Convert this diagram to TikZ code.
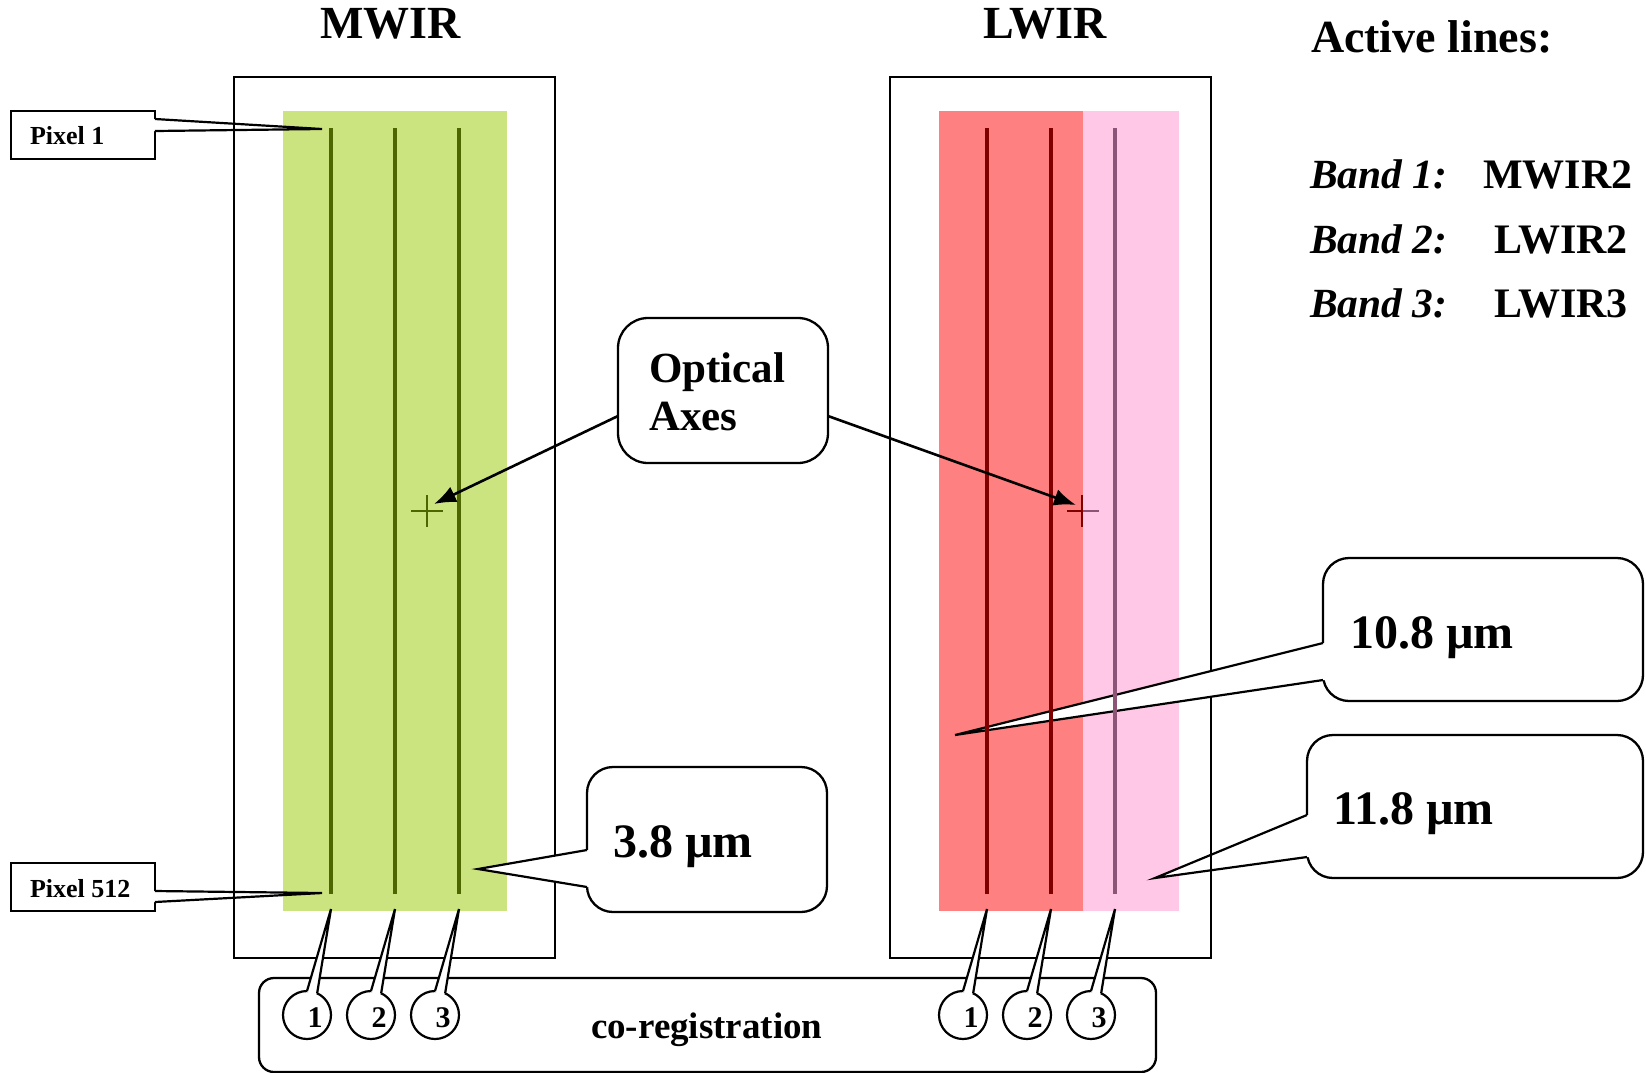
\documentclass[tikz,border=0pt]{standalone}
\usepackage{fontspec}
\setmainfont{Liberation Serif}
\usetikzlibrary{arrows.meta,calc}

\definecolor{mwirfill}{RGB}{204,228,128}
\definecolor{mwirline}{RGB}{77,102,0}
\definecolor{lwirtwo}{RGB}{255,128,128}
\definecolor{lwirthree}{RGB}{255,200,230}
\definecolor{detred}{RGB}{128,0,0}
\definecolor{detmauve}{RGB}{140,85,120}

\newcommand\fsz[2]{\fontsize{#1}{#2}\selectfont}
% wedge of a callout: tip, two base points on the box edge, inward offset
\newcommand\calloutwedge[4]{%
  \fill[white] (#1) -- (#2) -- ($(#2)+(#4,0)$) -- ($(#3)+(#4,0)$) -- (#3) -- cycle;
  \draw[wedgeline] (#2) -- (#1) -- (#3);}
% wedge from a numbered circle up to the end of a detector line
\newcommand\circlewedge[2]{%
  \fill[white] (#2) -- (#1.90) -- ($(#1.center)!0.8!(#1.77)$) -- (#1.65) -- cycle;
  \draw[wedgeline] (#1.90) -- (#2) -- (#1.65);}

\begin{document}
\begin{tikzpicture}[x=1pt, y=-1pt,
  every node/.style={inner sep=0pt, outer sep=0pt},
  framebox/.style={draw, line width=2.6pt},
  pixbox/.style={draw, fill=white, line width=2pt},
  callbox/.style={draw, fill=white, line width=2.3pt, rounded corners=26pt},
  coregbox/.style={draw, line width=2.3pt, rounded corners=15pt},
  numcirc/.style={circle, draw, fill=white, line width=2.2pt, minimum size=48pt},
  wedgeline/.style={line width=2.2pt},
  detline/.style={line width=3.4pt},
  axisarrow/.style={line width=2.6pt, -{Latex[length=22pt,width=17pt]}},
  crossline/.style={line width=2.2pt},
  titletext/.style={font=\bfseries\fsz{46}{50}},
  bandname/.style={font=\bfseries\itshape\fsz{41.5}{45}},
  bandvalue/.style={font=\bfseries\fsz{42}{45}},
  bigtext/.style={font=\bfseries\fsz{48}{52}},
  axtext/.style={font=\bfseries\fsz{43}{48}},
  pixtext/.style={font=\bfseries\fsz{26}{30}},
  numtext/.style={font=\bfseries\fsz{30}{32}},
  regtext/.style={font=\bfseries\fsz{37}{40}}]

\useasboundingbox (0,0) rectangle (1646,1072);

% spectral band areas on the focal planes
\fill[mwirfill] (283,111) rectangle (507,911);
\fill[lwirtwo] (939,111) rectangle (1083,911);
\fill[lwirthree] (1083,111) rectangle (1179,911);

% pixel labels
\node[pixbox, minimum width=144pt, minimum height=48pt] (px1) at (83,135) {};
\node[pixbox, minimum width=144pt, minimum height=48pt] (px512) at (83,887) {};
\coordinate (px1tip) at (322,129);
\coordinate (px512tip) at (322,893);
\coordinate (px1a) at ($(px1.north east)+(0,8)$);
\coordinate (px1b) at ($(px1.north east)+(0,20)$);
\coordinate (px512a) at ($(px512.north east)+(0,28)$);
\coordinate (px512b) at ($(px512.north east)+(0,39)$);
\calloutwedge{px1tip}{px1a}{px1b}{-4}
\calloutwedge{px512tip}{px512a}{px512b}{-4}
\node[pixtext, anchor=base west] (px1txt) at (30,144) {Pixel 1};
\node[pixtext, anchor=base west] (px512txt) at (30,897) {Pixel 512};

% 11.8 micron callout
\node[callbox, minimum width=336pt, minimum height=143pt] (c118) at (1475,806.5) {};
\coordinate (c118tip) at (1155,878);
\coordinate (c118a) at ($(c118.north west)+(0,80)$);
\coordinate (c118b) at ($(c118.north west)+(0,122)$);
\calloutwedge{c118tip}{c118a}{c118b}{4}
\node[bigtext, anchor=base west] (t118) at (1333,824) {11.8 µm};

% focal plane frames and titles
\node[framebox, minimum width=321pt, minimum height=881pt] (mframe) at (394.5,517.5) {};
\node[framebox, minimum width=321pt, minimum height=881pt] (lframe) at (1050.5,517.5) {};
\node[titletext, anchor=base] (mtitle) at (390.5,38) {MWIR};
\node[titletext, anchor=base] (ltitle) at (1045,38) {LWIR};

% 3.8 micron callout
\node[callbox, minimum width=240pt, minimum height=145pt] (c38) at (707,839.5) {};
\coordinate (c38tip) at (478,869);
\coordinate (c38a) at ($(c38.north west)+(0,83)$);
\coordinate (c38b) at ($(c38.north west)+(0,120)$);
\calloutwedge{c38tip}{c38a}{c38b}{4}
\node[bigtext, anchor=base west] (t38) at (613,857) {3.8 µm};

% 10.8 micron callout
\node[callbox, minimum width=320pt, minimum height=143pt] (c108) at (1483,629.5) {};
\coordinate (c108tip) at (955,735);
\coordinate (c108a) at ($(c108.north west)+(0,85)$);
\coordinate (c108b) at ($(c108.north west)+(0,122)$);
\calloutwedge{c108tip}{c108a}{c108b}{4}
\node[bigtext, anchor=base west] (t108) at (1350,648) {10.8 µm};

% detector lines
\foreach \x in {331,395,459}
  \draw[detline, mwirline] (\x,128) -- (\x,894);
\foreach \x in {987,1051}
  \draw[detline, detred] (\x,128) -- (\x,894);
\draw[detline, detmauve] (1115,128) -- (1115,894);

% optical axes
\coordinate (gax) at (427,511);
\coordinate (rax) at (1082,511);
\draw[crossline, mwirline] ($(gax)+(-16,0)$) -- ($(gax)+(16,0)$)
  ($(gax)+(0,-16)$) -- ($(gax)+(0,16)$);
\draw[crossline, detred] ($(rax)+(-15,0)$) -- (rax)
  ($(rax)+(0,-16)$) -- ($(rax)+(0,16)$);
\draw[crossline, detmauve] ($(rax)+(1,0)$) -- ($(rax)+(17,0)$);
\coordinate (gtip) at (434,504);
\coordinate (rtip) at (1076,505);

\node[callbox, rounded corners=30pt, minimum width=210pt, minimum height=145pt] (oa) at (723,390.5) {};
\node[axtext, anchor=base west] (oat1) at (649,382) {Optical};
\node[axtext, anchor=base west] (oat2) at (649,430) {Axes};
\draw[axisarrow] ($(oa.north west)+(0,98)$) -- (gtip);
\draw[axisarrow] ($(oa.north east)+(0,98)$) -- (rtip);

% active lines legend
\node[titletext, anchor=base west] (act) at (1311,52) {Active lines:};
\node[bandname, anchor=base west] (b1) at (1310,188) {Band 1:};
\node[bandvalue, anchor=base west] (v1) at (1483,188) {MWIR2};
\node[bandname, anchor=base west] (b2) at (1310,253) {Band 2:};
\node[bandvalue, anchor=base west] (v2) at (1494,253) {LWIR2};
\node[bandname, anchor=base west] (b3) at (1310,317) {Band 3:};
\node[bandvalue, anchor=base west] (v3) at (1494,317) {LWIR3};

% co-registration of the numbered lines
\node[coregbox, minimum width=897pt, minimum height=94pt] (coreg) at (707.5,1025) {};
\node[regtext, anchor=base west] (coregtxt) at (591,1038) {co-registration};

\node[numcirc] (m1) at (307,1015) {};
\node[numcirc] (m2) at (371,1015) {};
\node[numcirc] (m3) at (435,1015) {};
\node[numcirc] (l1) at (963,1015) {};
\node[numcirc] (l2) at (1027,1015) {};
\node[numcirc] (l3) at (1091,1015) {};
\coordinate (m1tip) at (331,909);
\coordinate (m2tip) at (395,909);
\coordinate (m3tip) at (459,909);
\coordinate (l1tip) at (987,909);
\coordinate (l2tip) at (1051,909);
\coordinate (l3tip) at (1115,909);
\circlewedge{m1}{m1tip}
\circlewedge{m2}{m2tip}
\circlewedge{m3}{m3tip}
\circlewedge{l1}{l1tip}
\circlewedge{l2}{l2tip}
\circlewedge{l3}{l3tip}
\node[numtext, anchor=base] at ($(m1.center)+(8,12)$) {1};
\node[numtext, anchor=base] at ($(m2.center)+(8,12)$) {2};
\node[numtext, anchor=base] at ($(m3.center)+(8,12)$) {3};
\node[numtext, anchor=base] at ($(l1.center)+(8,12)$) {1};
\node[numtext, anchor=base] at ($(l2.center)+(8,12)$) {2};
\node[numtext, anchor=base] at ($(l3.center)+(8,12)$) {3};

\end{tikzpicture}
\end{document}
